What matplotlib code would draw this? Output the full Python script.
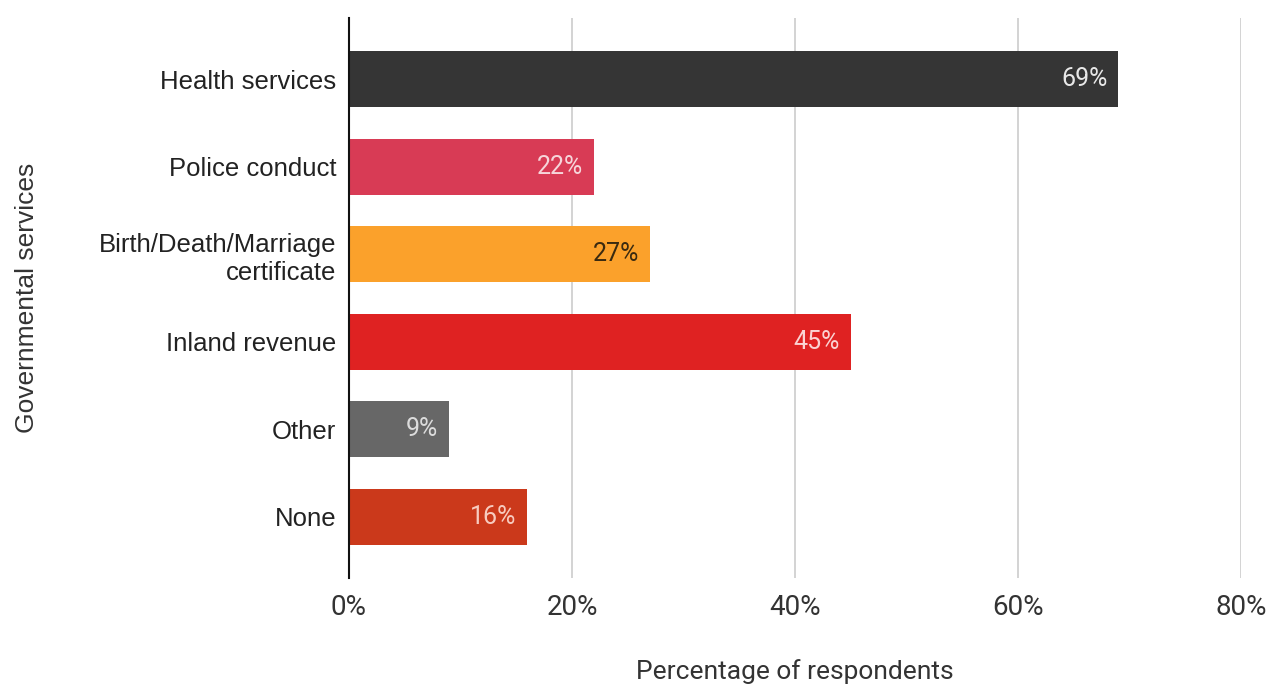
import matplotlib.pyplot as plt
from matplotlib.ticker import FuncFormatter

services = ["Health services", "Police conduct", "Birth/Death/Marriage\ncertificate",
            "Inland revenue", "Other", "None"]
percent = [69, 22, 27, 45, 9, 16]
colors = ["#353535", "#d83b55", "#fba12b", "#df2222", "#676767", "#cb391b"]
label_colors = ["#e8e8e8", "#f6d5da", "#3a2a10", "#fbd2d2", "#dcdcdc", "#f7cbbf"]
xticks = [0, 20, 40, 60, 80]

fig = plt.figure(figsize=(12.69, 6.87), dpi=100)
ax = fig.add_axes([0.275, 0.159, 0.703, 0.815])

pos = range(len(services))
ax.barh(pos, percent, height=0.64, color=colors, zorder=3)
for y, v, c in zip(pos, percent, label_colors):
    ax.text(v - 1.0, y, f"{v}%", ha="right", va="center", color=c,
            fontsize=18, family="Roboto", zorder=4)

ax.set_xlim(0, 80)
ax.set_ylim(5.7, -0.7)
ax.set_xticks(xticks)
ax.xaxis.set_major_formatter(FuncFormatter(lambda v, p: f"{v:.0f}%"))
ax.set_yticks(list(pos))
ax.set_yticklabels(services, fontsize=18.5, family="Liberation Sans",
                   color="#222222", linespacing=1.25)
ax.tick_params(axis="y", length=0, pad=9)
ax.tick_params(axis="x", length=0, pad=12, labelsize=20, labelcolor="#333333")
for lbl in ax.get_xticklabels():
    lbl.set_family("Roboto")

ax.grid(axis="x", color="#cccccc", linewidth=1.2, zorder=0)
for s in ["top", "right", "bottom"]:
    ax.spines[s].set_visible(False)
ax.spines["left"].set_color("#111111")
ax.spines["left"].set_linewidth(1.5)
ax.spines["left"].set_zorder(5)

ax.set_xlabel("Percentage of respondents", fontsize=19, family="Roboto",
              color="#333333")
ax.xaxis.set_label_coords(0.5, -0.145)
ax.set_ylabel("Governmental services", fontsize=19, family="Liberation Sans",
              color="#333333")
ax.yaxis.set_label_coords(-0.348, 0.5)

fig.savefig("out.png", dpi=100)
